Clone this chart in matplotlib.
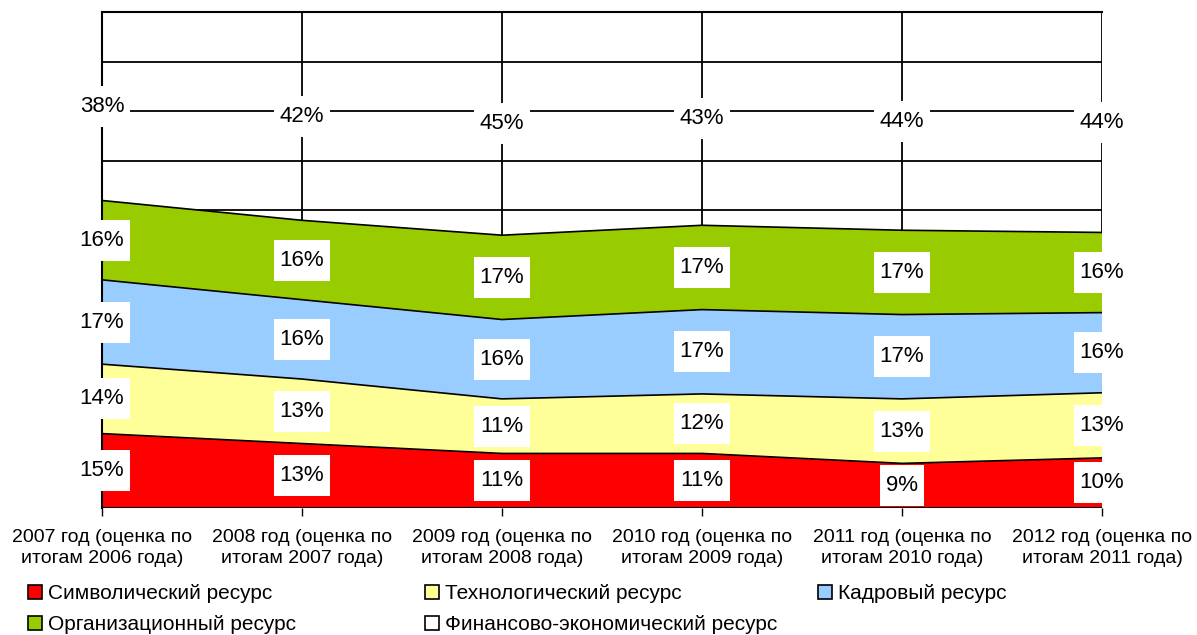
import numpy as np
import matplotlib.pyplot as plt
from matplotlib.patches import Patch
from matplotlib.path import Path

plt.rcParams['font.family'] = ['Liberation Sans', 'DejaVu Sans']

# categories and shares (%) per resource
years = ["2007 год (оценка по\nитогам 2006 года)",
         "2008 год (оценка по\nитогам 2007 года)",
         "2009 год (оценка по\nитогам 2008 года)",
         "2010 год (оценка по\nитогам 2009 года)",
         "2011 год (оценка по\nитогам 2010 года)",
         "2012 год (оценка по\nитогам 2011 года)"]
symbolic = [15, 13, 11, 11, 9, 10]
technological = [14, 13, 11, 12, 13, 13]
personnel = [17, 16, 16, 17, 17, 16]
organizational = [16, 16, 17, 17, 17, 16]
financial = [38, 42, 45, 43, 44, 44]

names = ["Символический ресурс", "Технологический ресурс", "Кадровый ресурс",
         "Организационный ресурс", "Финансово-экономический ресурс"]
colors = ["#FF0000", "#FFFF99", "#99CCFF", "#99CC00", "#FFFFFF"]

series = np.array([symbolic, technological, personnel, organizational, financial], dtype=float)
# normalise to 100% per year
shares = series / series.sum(axis=0) * 100
x = np.arange(len(years))


def label_box(x0, y0, width, height, mutation_size):
    # white label box: narrow at the sides, tall above/below the text
    px = 0.27 * mutation_size
    py = 0.45 * mutation_size
    x1, y1 = x0 + width + px, y0 + height + py
    x0, y0 = x0 - px, y0 - py
    return Path([(x0, y0), (x1, y0), (x1, y1), (x0, y1), (x0, y0)], closed=True)


fig = plt.figure(figsize=(11.97, 6.35), dpi=100)
ax = fig.add_axes([102 / 1197, 1 - 508 / 635, 1000 / 1197, 496 / 635])

bottom = np.zeros(len(years))
for i in range(len(series)):
    top = bottom + shares[i]
    if colors[i] != "#FFFFFF":
        ax.fill_between(x, bottom, top, facecolor=colors[i], edgecolor='none', zorder=2)
    ax.plot(x, top, color='black', lw=1.2, zorder=3)
    for j in range(len(years)):
        ax.text(x[j], (bottom[j] + top[j]) / 2, "%d%%" % series[i][j],
                ha='center', va='center', fontsize=16, zorder=5,
                bbox=dict(boxstyle=label_box, facecolor='white', edgecolor='none'))
    bottom = top

ax.set_xlim(0, len(years) - 1)
ax.set_ylim(0, 100)
ax.set_yticks(np.arange(0, 101, 10))
ax.set_yticklabels([])
ax.tick_params(axis='y', length=0)
ax.set_xticks(x)
ax.set_xticklabels(years, fontsize=14, linespacing=1.35)
ax.tick_params(axis='x', length=6, width=1, direction='out', pad=9)
ax.grid(True, color='black', lw=1.3, zorder=1)
ax.set_axisbelow(True)
for s in ax.spines.values():
    s.set_linewidth(1.5)
ax.spines['right'].set_visible(False)
ax.spines['bottom'].set_visible(False)
ax.axhline(0, color='black', lw=1.5, zorder=4)

# legend laid out in three columns
handles = [Patch(facecolor=c, edgecolor='black', lw=1.2) for c in colors]
col_x = [28, 425, 818]
cols = [[0, 3], [1, 4], [2]]
for cx, idx in zip(col_x, cols):
    fig.legend([handles[k] for k in idx], [names[k] for k in idx],
               loc='upper left', bbox_to_anchor=(cx / 1197, 1 - 584 / 635),
               frameon=False, fontsize=15, handlelength=0.65, handleheight=0.65,
               handletextpad=0.3, labelspacing=0.6, borderaxespad=0, borderpad=0)

fig.savefig("out.png", dpi=100)
